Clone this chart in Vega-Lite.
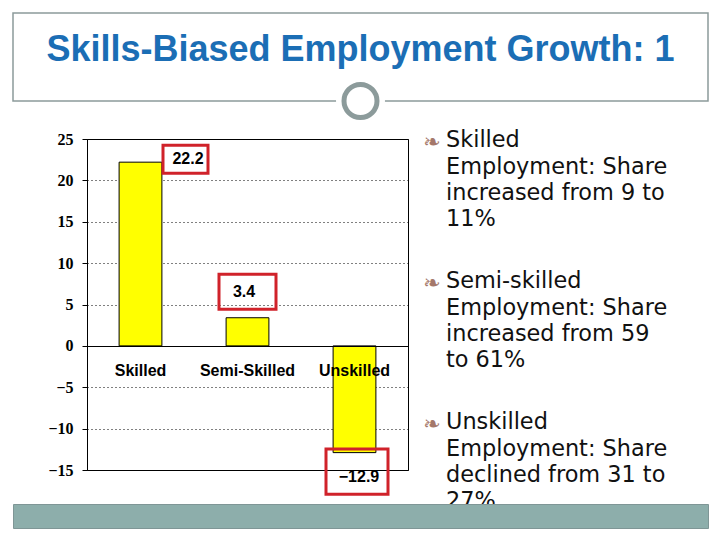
{
  "$schema": "https://vega.github.io/schema/vega-lite/v6.json",
  "background": "white",
  "padding": {"left": 12, "top": 12, "right": 13, "bottom": 13},
  "config": {"view": {"stroke": null}, "font": "Liberation Sans"},
  "datasets": {
    "header": [{"title": "Skills-Biased Employment Growth: 1"}],
    "growth": [
      {"category": "Skilled", "value": 22.2},
      {"category": "Semi-Skilled", "value": 3.4},
      {"category": "Unskilled", "value": -12.9}
    ],
    "notes": [
      {"block": 0, "lines": ["Skilled", "Employment: Share", "increased from 9 to", "11%"]},
      {"block": 1, "lines": ["Semi-skilled", "Employment: Share", "increased from 59", "to 61%"]},
      {"block": 2, "lines": ["Unskilled", "Employment: Share", "declined from 31 to", "27%"]}
    ],
    "footer": [{"part": "footer"}]
  },
  "columns": 1,
  "align": "none",
  "spacing": -10,
  "concat": [
    {
      "spacing": 0,
      "vconcat": [
        {
          "width": 695,
          "height": 88,
          "view": {"stroke": "#8C9B9B", "strokeWidth": 1.5},
          "data": {"name": "header"},
          "layer": [
            {
              "mark": {"type": "text", "font": "Liberation Sans", "fontWeight": "bold", "fontSize": 36, "color": "#1B6EB5", "baseline": "middle", "align": "center", "dy": -7},
              "encoding": {"text": {"field": "title", "type": "nominal"}}
            },
            {
              "mark": {"type": "point", "shape": "circle", "filled": true, "color": "white", "opacity": 1, "size": 2401, "strokeWidth": 0},
              "encoding": {"y": {"datum": 0, "type": "quantitative", "scale": {"domain": [0, 1]}, "axis": null}}
            },
            {
              "mark": {"type": "point", "shape": "circle", "filled": false, "color": "#8C9B9B", "opacity": 1, "size": 1089, "strokeWidth": 5, "fill": "white"},
              "encoding": {"y": {"datum": 0, "type": "quantitative"}}
            }
          ]
        },
        {
          "spacing": 14,
          "hconcat": [
            {
              "width": 1,
              "height": 1,
              "data": {"name": "footer"},
              "mark": {"type": "text", "text": ""},
              "encoding": {}
            },
            {
              "width": 321,
              "height": 331,
              "view": {"stroke": "#000", "strokeWidth": 1},
              "data": {"name": "growth"},
              "layer": [
                {
                  "mark": {"type": "bar", "color": "#FFFF00", "stroke": "#000", "strokeWidth": 1},
                  "encoding": {
                    "x": {
                      "field": "category", "type": "nominal",
                      "sort": ["Skilled", "Semi-Skilled", "Unskilled"],
                      "scale": {"paddingInner": 0.6, "paddingOuter": 0.3},
                      "axis": {"orient": "bottom", "offset": -124, "title": null, "domainColor": "#000", "domainWidth": 1, "ticks": false, "labelFont": "Liberation Sans", "labelFontWeight": "bold", "labelFontSize": 16, "labelColor": "#000", "labelPadding": 16, "labelAngle": 0, "zindex": 1}
                    },
                    "y": {
                      "field": "value", "type": "quantitative",
                      "scale": {"domain": [-15, 25], "nice": false, "zero": false},
                      "axis": {"values": [-15, -10, -5, 0, 5, 10, 15, 20, 25], "title": null, "grid": true, "gridColor": "#000", "gridDash": [1, 3], "gridWidth": 1, "gridOpacity": 1, "domainColor": "#000", "tickColor": "#000", "tickSize": 5, "labelFont": "Liberation Serif", "labelFontWeight": "bold", "labelFontSize": 16, "labelColor": "#000", "labelPadding": 9, "minExtent": 58, "zindex": 0}
                    }
                  }
                },
                {
                  "transform": [{"filter": "datum.category === 'Skilled'"}],
                  "mark": {"type": "point", "shape": "M-1,-0.622H1V0.622H-1Z", "size": 2025, "filled": false, "color": "#D0222A", "stroke": "#D0222A", "strokeWidth": 3, "opacity": 1, "xOffset": 45, "yOffset": -3},
                  "encoding": {"x": {"field": "category", "type": "nominal", "sort": ["Skilled", "Semi-Skilled", "Unskilled"]}, "y": {"field": "value", "type": "quantitative"}}
                },
                {
                  "transform": [{"filter": "datum.category === 'Semi-Skilled'"}],
                  "mark": {"type": "point", "shape": "M-1,-0.614H1V0.614H-1Z", "size": 3249, "filled": false, "color": "#D0222A", "stroke": "#D0222A", "strokeWidth": 3, "opacity": 1, "xOffset": 0, "yOffset": -26},
                  "encoding": {"x": {"field": "category", "type": "nominal", "sort": ["Skilled", "Semi-Skilled", "Unskilled"]}, "y": {"field": "value", "type": "quantitative"}}
                },
                {
                  "transform": [{"filter": "datum.category === 'Unskilled'"}],
                  "mark": {"type": "point", "shape": "M-1,-0.726H1V0.726H-1Z", "size": 3844, "filled": false, "color": "#D0222A", "stroke": "#D0222A", "strokeWidth": 3, "opacity": 1, "xOffset": 2.5, "yOffset": 19},
                  "encoding": {"x": {"field": "category", "type": "nominal", "sort": ["Skilled", "Semi-Skilled", "Unskilled"]}, "y": {"field": "value", "type": "quantitative"}}
                },
                {
                  "transform": [{"filter": "datum.category === 'Skilled'"}],
                  "mark": {"type": "text", "font": "Liberation Sans", "fontWeight": "bold", "fontSize": 16, "color": "#000", "baseline": "middle", "dx": 47.5, "dy": -3},
                  "encoding": {"x": {"field": "category", "type": "nominal", "sort": ["Skilled", "Semi-Skilled", "Unskilled"]}, "y": {"field": "value", "type": "quantitative"}, "text": {"field": "value", "type": "quantitative", "format": ".1f"}}
                },
                {
                  "transform": [{"filter": "datum.category === 'Semi-Skilled'"}],
                  "mark": {"type": "text", "font": "Liberation Sans", "fontWeight": "bold", "fontSize": 16, "color": "#000", "baseline": "middle", "dx": -3.5, "dy": -26},
                  "encoding": {"x": {"field": "category", "type": "nominal", "sort": ["Skilled", "Semi-Skilled", "Unskilled"]}, "y": {"field": "value", "type": "quantitative"}, "text": {"field": "value", "type": "quantitative", "format": ".1f"}}
                },
                {
                  "transform": [{"filter": "datum.category === 'Unskilled'"}],
                  "mark": {"type": "text", "font": "Liberation Sans", "fontWeight": "bold", "fontSize": 16, "color": "#000", "baseline": "middle", "dx": 4.5, "dy": 24},
                  "encoding": {"x": {"field": "category", "type": "nominal", "sort": ["Skilled", "Semi-Skilled", "Unskilled"]}, "y": {"field": "value", "type": "quantitative"}, "text": {"field": "value", "type": "quantitative", "format": ".1f"}}
                }
              ]
            },
            {
              "width": 250,
              "height": 331,
              "data": {"name": "notes"},
              "layer": [
                {
                  "mark": {"type": "text", "align": "left", "baseline": "top", "font": "DejaVu Sans", "fontSize": 22.4, "lineHeight": 26.3, "color": "#111111"},
                  "encoding": {
                    "x": {"value": 0},
                    "y": {"field": "block", "type": "quantitative", "scale": {"domain": [0, 2], "range": [-9.7, 272.3]}, "axis": null},
                    "text": {"field": "lines", "type": "nominal"}
                  }
                },
                {
                  "mark": {"type": "text", "text": "❧", "align": "left", "baseline": "top", "font": "DejaVu Sans", "fontSize": 21, "color": "#A5786B", "dx": -23, "dy": 3},
                  "encoding": {
                    "x": {"value": 0},
                    "y": {"field": "block", "type": "quantitative"}
                  }
                }
              ]
            }
          ]
        }
      ]
    },
    {
      "width": 695,
      "height": 24,
      "view": {"fill": "#8DAEAB", "stroke": "#7F9696", "strokeWidth": 1},
      "data": {"name": "footer"},
      "mark": {"type": "text", "text": ""},
      "encoding": {}
    }
  ]
}
